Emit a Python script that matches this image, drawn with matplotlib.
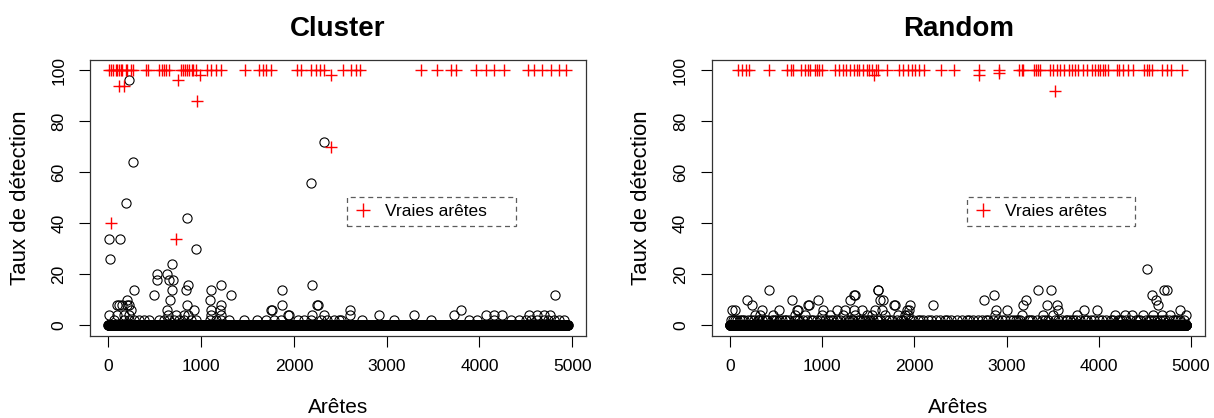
"""Taux de détection par arête : réseaux Cluster et Random."""
import matplotlib
matplotlib.use("Agg")
import matplotlib.pyplot as plt
from matplotlib.lines import Line2D

plt.rcParams["font.family"] = ["Liberation Sans", "DejaVu Sans"]

N_EDGES = 4950
PANELS = ["Cluster", "Random"]

# --- Cluster : vraies arêtes (x, taux)
cluster_true_x = [
    5, 27, 52, 81, 99, 118, 135, 153, 188, 207, 242, 262, 404, 429,
    548, 577, 601, 627, 655, 781, 806, 828, 846, 871, 897, 918, 943,
    1069, 1105, 1159, 1212, 1474, 1625, 1662, 1705, 1751,
    2039, 2074, 2182, 2236, 2279, 2326, 2530, 2613, 2667, 2713,
    3367, 3547, 3698, 3745, 3960, 4068, 4157, 4259,
    4518, 4589, 4679, 4769, 4858, 4930,
    116, 170, 756, 986, 956, 30, 727, 2397, 2398,
]
cluster_true_y = [
    100, 100, 100, 100, 100, 100, 100, 100, 100, 100, 100, 100, 100, 100,
    100, 100, 100, 100, 100, 100, 100, 100, 100, 100, 100, 100, 100,
    100, 100, 100, 100, 100, 100, 100, 100, 100,
    100, 100, 100, 100, 100, 100, 100, 100, 100, 100,
    100, 100, 100, 100, 100, 100, 100, 100,
    100, 100, 100, 100, 100, 100,
    94, 94, 96, 98, 88, 40, 34, 98, 70,
]

# --- Cluster : fausses arêtes détectées (taux > 0)
cluster_fp_x = [
    224, 2320, 2189, 271, 189, 853, 9, 127, 20, 940, 692, 523, 631, 520, 655,
    695, 857, 842, 689, 1103, 1210, 2193, 1870, 278, 494, 1320, 199, 663,
    1100, 116, 228, 850, 1215, 1877, 2254, 242, 638, 925, 1107, 1209, 1758,
    1762, 2261, 206, 99, 153, 4811, 2606,
    # taux 4
    12, 96, 168, 221, 641, 727, 817, 855, 1109, 1213, 1942, 2200, 2326,
    2609, 2918, 3295, 3726, 4068, 4155, 4248, 4535, 4625, 4700, 4760,
    3798, 1949,
    # taux 2
    62, 173, 226, 280, 332, 386, 440, 547, 601, 658, 709, 763, 819, 889,
    945, 1101, 1159, 1216, 1301, 1463, 1608, 1697, 1787, 1859, 2041, 2110,
    2185, 2290, 2362, 2433, 2487, 2506, 2739, 3080, 3475, 3888, 3978, 4159,
    4337, 4427, 4500, 4553, 4620, 4696, 4740, 4804, 4860, 4912,
]
cluster_fp_y = [
    96, 72, 56, 64, 48, 42, 34, 34, 26, 30, 24, 20, 20, 18, 18,
    18, 16, 14, 14, 14, 16, 16, 14, 14, 12, 12, 10, 10,
    10, 8, 8, 8, 8, 8, 8, 6, 6, 6, 6, 6, 6,
    6, 8, 8, 8, 8, 12, 6,
    4, 4, 4, 4, 4, 4, 4, 4, 4, 4, 4, 4, 4,
    4, 4, 4, 4, 4, 4, 4, 4, 4, 4, 4,
    6, 4,
    2, 2, 2, 2, 2, 2, 2, 2, 2, 2, 2, 2, 2, 2,
    2, 2, 2, 2, 2, 2, 2, 2, 2, 2, 2, 2,
    2, 2, 2, 2, 2, 2, 2, 2, 2, 2, 2, 2,
    2, 2, 2, 2, 2, 2, 2, 2, 2, 2,
]

# --- Random : vraies arêtes
random_true_x = [
    84, 127, 170, 209, 426, 615, 662, 687, 770, 813, 843, 868, 922, 940,
    965, 995, 1139, 1182, 1229, 1255, 1302, 1348, 1374, 1399, 1446, 1483,
    1508, 1537, 1580, 1608, 1700, 1836, 1880, 1927, 1971, 2007, 2050, 2107,
    2289, 2433, 2704, 2921, 3138, 3164, 3181, 3297, 3319, 3344, 3362, 3471,
    3500, 3543, 3579, 3623, 3680, 3706, 3742, 3778, 3832, 3869, 3923, 3959,
    3995, 4013, 4049, 4067, 4103, 4194, 4222, 4266, 4320, 4368, 4494, 4520,
    4548, 4574, 4682, 4736, 4780, 4899,
    1565, 2706, 2923, 3525,
]
random_true_y = [100] * 80 + [98, 98, 99, 92]

# --- Random : fausses arêtes détectées
random_fp_x = [
    4526, 423, 1602, 1609, 3346, 3482, 4702, 4743,
    1356, 1345, 2863, 4576,
    181, 676, 958, 1303, 1627, 1663, 2758, 3210, 4620,
    235, 860, 1790, 1952, 2205, 849, 1782, 3175, 4646, 3435, 3545,
    18, 54, 344, 531, 723, 734, 1012, 1157, 1247, 1349, 1428, 1573, 1645,
    1916, 1941, 3561, 4881, 2885, 3001, 3843, 3977,
    271, 325, 470, 705, 814, 996, 1085, 1230, 1358, 1484, 1538, 1681,
    1826, 1898, 1934, 2874, 3165, 3398, 3507, 3760, 4176, 4284, 4357, 4483,
    4591, 4683, 4772, 4946,
    # taux 2
    10, 36, 72, 110, 150, 196, 260, 300, 352, 398, 455, 502, 560, 598,
    640, 752, 790, 835, 905, 950, 1030, 1062, 1120, 1190, 1264, 1320,
    1390, 1412, 1460, 1520, 1590, 1630, 1720, 1760, 1850, 1990, 2040, 2090,
    2150, 2230, 2280, 2330, 2400, 2460, 2520, 2590, 2640, 2730, 2800, 2850,
    2950, 3040, 3100, 3150, 3230, 3280, 3380, 3450, 3520, 3600, 3660, 3720,
    3800, 3870, 3910, 4000, 4080, 4130, 4210, 4250, 4300, 4400, 4450, 4540,
    4600, 4660, 4720, 4800, 4850, 4920,
    55, 133, 228, 318, 377, 482, 531, 612, 701, 733, 877, 980, 1097, 1161,
    1287, 1333, 1440, 1497, 1555, 1696, 1807, 1873, 1951, 2064, 2183, 2349,
    2571, 2689, 2775, 2907, 2988, 3069, 3122, 3256, 3331, 3417, 3556, 3641,
    3691, 3755, 3852, 3943, 4033, 4155, 4234, 4335, 4427, 4512, 4565, 4628,
    4693, 4757, 4828, 4875,
]
random_fp_y = (
    [22, 14, 14, 14, 14, 14, 14, 14]
    + [12, 12, 12, 12]
    + [10, 10, 10, 10, 10, 10, 10, 10, 10]
    + [8, 8, 8, 8, 8, 8, 8, 8, 8, 8, 8]
    + [6] * 21
    + [4] * 28
    + [2] * 80
    + [2] * 54
)

X_TICKS = [0, 1000, 2000, 3000, 4000, 5000]
Y_TICKS = [0, 20, 40, 60, 80, 100]


def draw_panel(ax, title, true_x, true_y, fp_x, fp_y):
    used = set(true_x) | set(fp_x)
    zero_x = [i for i in range(1, N_EDGES + 1) if i not in used]
    circ = dict(ls="none", marker="o", mfc="none", mec="black", ms=6.6, mew=0.8)
    ax.plot(zero_x, [0] * len(zero_x), **circ)
    ax.plot(fp_x, fp_y, **circ)
    ax.plot(true_x, true_y, ls="none", marker="+", color="red", ms=8.5, mew=1.0)

    ax.set_xlim(-197, 5148)
    ax.set_ylim(-4, 104)
    ax.set_xticks(X_TICKS)
    ax.set_yticks(Y_TICKS)
    ax.tick_params(direction="out", length=8, width=0.8, labelsize=12.5, pad=9)
    for lab in ax.get_yticklabels():
        lab.set_rotation(90)
        lab.set_va("center")
    for s in ax.spines.values():
        s.set_linewidth(0.9)
        s.set_color("#333333")
    ax.set_title(title, fontsize=20, fontweight="bold", pad=17)
    ax.set_xlabel("Arêtes", fontsize=15, labelpad=17)
    ax.set_ylabel("Taux de détection", fontsize=16, labelpad=15)

    handle = Line2D([], [], ls="none", marker="+", color="red", ms=10, mew=1.0)
    leg = ax.legend(
        [handle], ["Vraies arêtes"], loc="upper left",
        bbox_to_anchor=(0.518, 0.503, 0.341, 0.0), mode="expand",
        fontsize=12.5, frameon=True, fancybox=False, borderpad=0.4,
        handlelength=1.0, handletextpad=0.8, borderaxespad=0,
    )
    fr = leg.get_frame()
    fr.set_linestyle((0, (4, 3)))
    fr.set_edgecolor("#333333")
    fr.set_linewidth(0.9)


fig = plt.figure(figsize=(12.14, 4.18), dpi=100)
ax1 = fig.add_axes([90 / 1214, 82.3 / 418, 496 / 1214, 275.7 / 418])
ax2 = fig.add_axes([711.7 / 1214, 82.3 / 418, 493 / 1214, 275.7 / 418])
draw_panel(ax1, PANELS[0], cluster_true_x, cluster_true_y, cluster_fp_x, cluster_fp_y)
draw_panel(ax2, PANELS[1], random_true_x, random_true_y, random_fp_x, random_fp_y)
fig.savefig("out.png", dpi=100)
